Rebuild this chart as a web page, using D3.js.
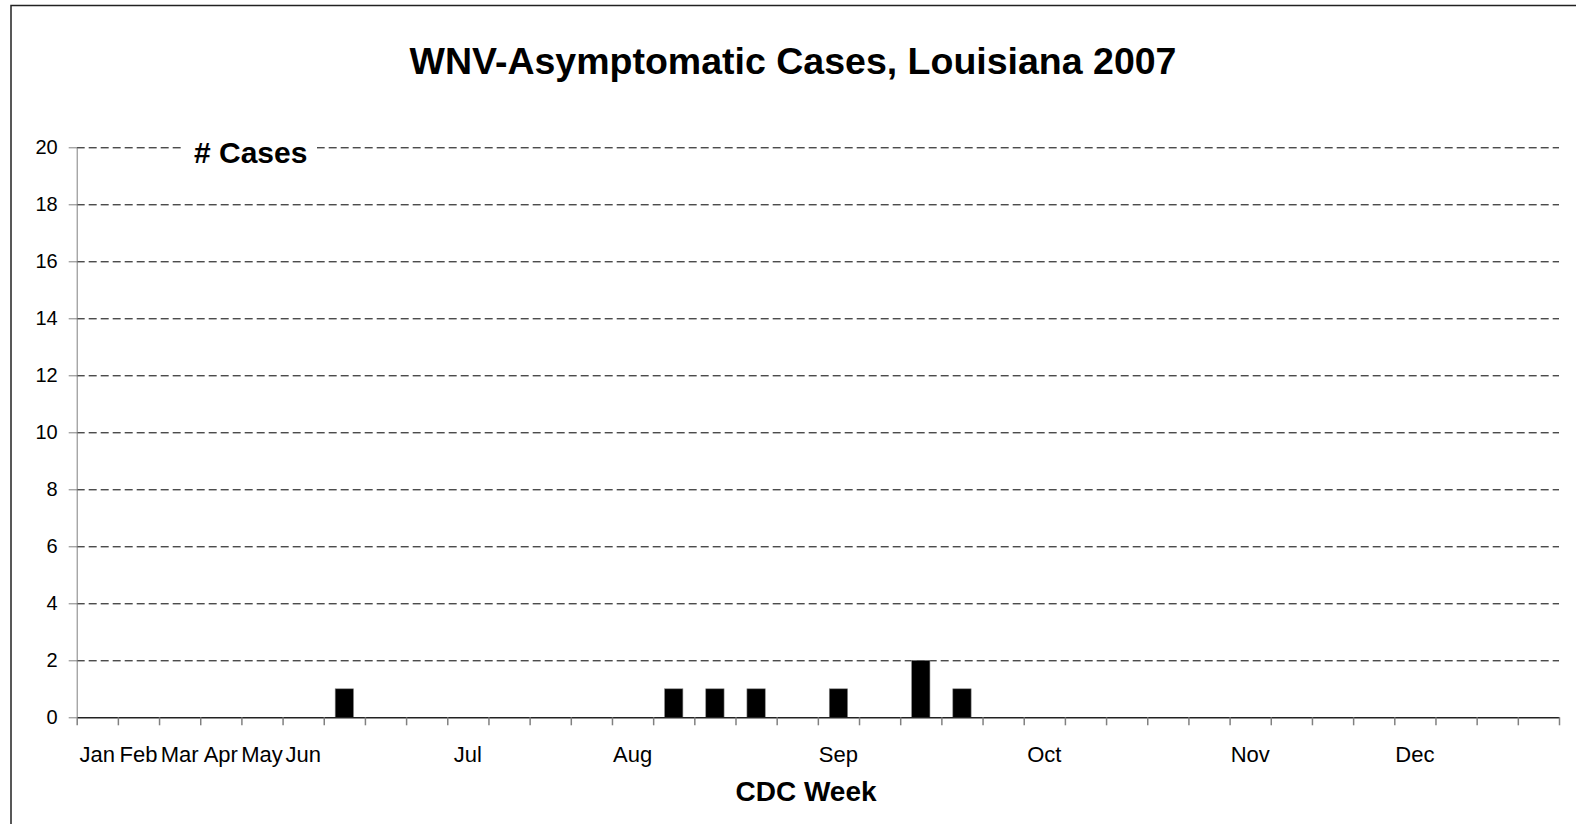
<meta charset="utf-8">
<style>
body { margin: 0; background: #fff; }
text { font-family: "Liberation Sans", Arial, sans-serif; }
.grid line { stroke: #000; stroke-dasharray: 8,4; stroke-width: 1; }
.grid path { display: none; }
</style>
<body>
<script src="https://cdnjs.cloudflare.com/ajax/libs/d3/7.8.5/d3.min.js"></script>
<script>
// CDC weeks shown on the chart (36 categories)
var weeks = [1, 2, 3, 4, 5, 6, 7, 8, 9, 10, 11, 12, 13, 14, 15, 16, 17, 18,
             19, 20, 21, 22, 23, 24, 25, 26, 27, 28, 29, 30, 31, 32, 33, 34, 35, 36];
// month label under some weeks
var monthLabels = ["Jan", "Feb", "Mar", "Apr", "May", "Jun", "", "", "", "Jul", "", "", "",
                   "Aug", "", "", "", "", "Sep", "", "", "", "", "Oct", "", "", "", "",
                   "Nov", "", "", "", "Dec", "", "", ""];
var cases = [0, 0, 0, 0, 0, 0, 1, 0, 0, 0, 0, 0, 0, 0, 1, 1, 1, 0, 1, 0, 2, 1,
             0, 0, 0, 0, 0, 0, 0, 0, 0, 0, 0, 0, 0, 0];
var yTicks = [0, 2, 4, 6, 8, 10, 12, 14, 16, 18, 20];

var W = 1576, H = 824;
var margin = {top: 147.3, left: 76.7, right: W - 1559, bottom: H - 717.3};
var width = W - margin.left - margin.right,
    height = H - margin.top - margin.bottom;

var svg = d3.select("body").append("svg")
    .attr("width", W)
    .attr("height", H);

// outer frame
svg.append("path")
    .attr("d", "M11," + H + "V5.5H" + W)
    .attr("fill", "none")
    .attr("stroke", "#222")
    .attr("stroke-width", 1.5);

var g = svg.append("g")
    .attr("transform", "translate(" + margin.left + "," + margin.top + ")");

var x = d3.scaleBand()
    .domain(weeks)
    .range([0, width])
    .padding(0);

// linear version of x for ticks at category boundaries
var xEdge = d3.scaleLinear()
    .domain([0, weeks.length])
    .range([0, width]);

var y = d3.scaleLinear()
    .domain([0, 20])
    .range([height, 0]);

// gridlines
g.append("g")
    .attr("class", "grid")
    .call(d3.axisLeft(y).tickValues(yTicks.slice(1)).tickSize(-width).tickFormat(""));

// bars
var barFrac = 0.445;
g.selectAll(".bar")
    .data(cases)
  .enter().append("rect")
    .attr("class", "bar")
    .attr("x", function(d, i) { return x(weeks[i]) + x.bandwidth() * (1 - barFrac) / 2; })
    .attr("width", x.bandwidth() * barFrac)
    .attr("y", function(d) { return y(d); })
    .attr("height", function(d) { return height - y(d); })
    .attr("fill", "#000")
    .attr("stroke", "#888")
    .attr("stroke-width", 0.6)
    .style("display", function(d) { return d > 0 ? null : "none"; });

// y axis
var yAxis = g.append("g")
    .call(d3.axisLeft(y).tickValues(yTicks).tickSize(8).tickPadding(11).tickSizeOuter(0));
yAxis.select(".domain").attr("stroke", "#808080");
yAxis.selectAll(".tick line").attr("stroke", "#808080");
yAxis.selectAll("text")
    .style("font-size", "20px")
    .attr("fill", "#000");

// x axis: boundary ticks
var xTicks = g.append("g")
    .attr("transform", "translate(0," + height + ")")
    .call(d3.axisBottom(xEdge).tickValues(d3.range(0, weeks.length + 1))
          .tickSize(8).tickFormat("").tickSizeOuter(0));
xTicks.select(".domain").attr("stroke", "#222").attr("stroke-width", 1.5);
xTicks.selectAll(".tick line").attr("stroke", "#808080").attr("stroke-width", 1.5);

// x axis: month labels centred on weeks
var xLabels = g.append("g")
    .attr("transform", "translate(0," + height + ")")
    .call(d3.axisBottom(x).tickSize(0).tickPadding(29)
          .tickFormat(function(d, i) { return monthLabels[i]; }));
xLabels.select(".domain").remove();
xLabels.selectAll("text")
    .style("font-size", "22px")
    .attr("fill", "#000");

// title
svg.append("text")
    .attr("x", 793)
    .attr("y", 74)
    .attr("text-anchor", "middle")
    .style("font-size", "37.5px")
    .style("font-weight", "bold")
    .text("WNV-Asymptomatic Cases, Louisiana 2007");

// axis title box covers the gridline behind it
svg.append("rect")
    .attr("x", 184)
    .attr("y", 136)
    .attr("width", 133)
    .attr("height", 32)
    .attr("fill", "#fff");

svg.append("text")
    .attr("x", 194)
    .attr("y", 163)
    .style("font-size", "30px")
    .style("font-weight", "bold")
    .text("# Cases");

svg.append("text")
    .attr("x", 806)
    .attr("y", 801)
    .attr("text-anchor", "middle")
    .style("font-size", "28px")
    .style("font-weight", "bold")
    .text("CDC Week");
</script>
</body>
